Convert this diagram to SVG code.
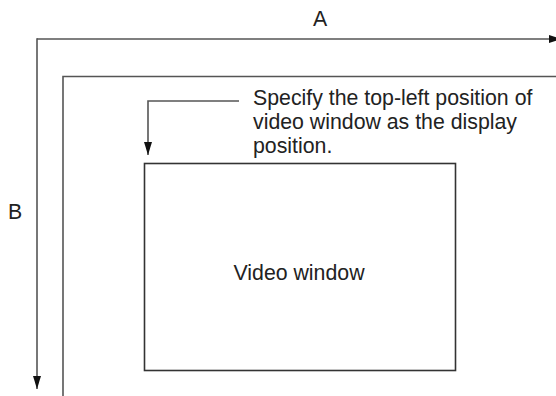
<svg xmlns="http://www.w3.org/2000/svg" width="556" height="396" viewBox="0 0 556 396">
<style>
.ln{fill:none;stroke:#555;stroke-width:1.6}
.rc{fill:#fff;stroke:#333;stroke-width:1.6}
.t{font-family:"Liberation Sans",Arial,sans-serif;font-size:21.3px;fill:#222}
</style>
<defs>
<marker id="ah" markerWidth="14" markerHeight="8" refX="13" refY="4" orient="auto" markerUnits="userSpaceOnUse">
<path d="M0,0 L13,4 L0,8 Z" fill="#111"/>
</marker>
</defs>
<rect width="556" height="396" fill="#fff"/>
<g id="connectors">
<path class="ln" d="M37,39 L562,39" marker-end="url(#ah)"/>
<path class="ln" d="M37,38.2 L37,389" marker-end="url(#ah)"/>
<polyline class="ln" points="63,396 63,76.5 556,76.5"/>
<polyline class="ln" points="239,101 148,101 148,155" marker-end="url(#ah)"/>
</g>
<g id="labelA"><text class="t" x="313" y="26">A</text></g>
<g id="labelB"><text class="t" x="8" y="219">B</text></g>
<g id="callout">
<text class="t" x="253" y="105">Specify the top-left position of</text>
<text class="t" x="253" y="129">video window as the display</text>
<text class="t" x="253" y="153">position.</text>
</g>
<g id="video-window">
<rect class="rc" x="144.5" y="163.5" width="311" height="207"/>
<text class="t" x="299" y="280" text-anchor="middle">Video window</text>
</g>
</svg>
